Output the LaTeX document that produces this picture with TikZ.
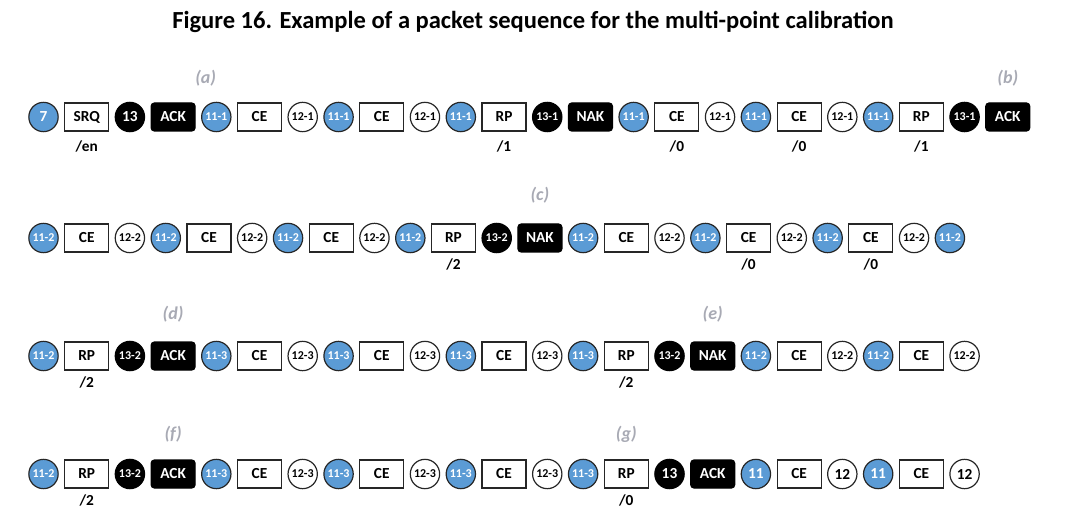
\documentclass[tikz,border=0pt]{standalone}
\usepackage{fontspec}
\setmainfont{Carlito}
\usepackage{tikz}
\usetikzlibrary{positioning,calc}
\definecolor{pktblue}{RGB}{91,155,213}
\definecolor{taggray}{RGB}{168,170,180}

\begin{document}
\begin{tikzpicture}[x=0.75pt,y=-0.75pt,
  node distance=4.9pt,
  pkt/.style={inner sep=0pt,outer sep=0pt,line width=0.9pt,
    font=\bfseries\fontsize{11.5}{13}\selectfont},
  bluedot/.style={pkt,circle,draw=black!85,fill=pktblue,text=white,
    minimum size=22pt,font=\bfseries\fontsize{9}{10}\selectfont},
  whitedot/.style={bluedot,fill=white,text=black},
  blackdot/.style={bluedot,fill=black,draw=black},
  bluebig/.style={bluedot,font=\bfseries\fontsize{11.5}{13}\selectfont},
  whitebig/.style={whitedot,font=\bfseries\fontsize{11.5}{13}\selectfont},
  blackbig/.style={blackdot,font=\bfseries\fontsize{11.5}{13}\selectfont},
  pktbox/.style={pkt,rectangle,draw=black!85,fill=white,
    minimum width=33pt,minimum height=21pt},
  ackbox/.style={pktbox,fill=black,draw=black,text=white,rounded corners=2.5pt},
  sublab/.style={font=\bfseries\fontsize{11.5}{13}\selectfont},
  parttag/.style={text=taggray,font=\bfseries\itshape\fontsize{13.5}{15}\selectfont}]

  \useasboundingbox (0,0) rectangle (1069,516);

  \node (title) at (533,22) {\bfseries\fontsize{18.4}{21}\selectfont
    Figure 16. Example of a packet sequence for the multi-point calibration};

  % row 1
  \coordinate (r1-0) at (22.3,117);
  \foreach \s/\t [count=\i] in {bluebig/7,pktbox/SRQ,blackbig/13,ackbox/ACK,
      bluedot/11-1,pktbox/CE,whitedot/12-1,bluedot/11-1,pktbox/CE,whitedot/12-1,
      bluedot/11-1,pktbox/RP,blackdot/13-1,ackbox/NAK,bluedot/11-1,pktbox/CE,
      whitedot/12-1,bluedot/11-1,pktbox/CE,whitedot/12-1,bluedot/11-1,pktbox/RP,
      blackdot/13-1,ackbox/ACK} {
    \pgfmathtruncatemacro\j{\i-1}
    \node (r1-\i) [\s,right=of r1-\j] {\t};
  }
  \foreach \k/\v in {2/en,12/1,16/0,19/0,22/1}
    \node (r1s\k) [sublab] at ([yshift=-21.75pt]r1-\k) {/\v};

  % row 2
  \coordinate (r2-0) at (22.3,238);
  \foreach \s/\t [count=\i] in {bluedot/11-2,pktbox/CE,whitedot/12-2,
      bluedot/11-2,pktbox/CE,whitedot/12-2,bluedot/11-2,pktbox/CE,whitedot/12-2,
      bluedot/11-2,pktbox/RP,blackdot/13-2,ackbox/NAK,bluedot/11-2,pktbox/CE,
      whitedot/12-2,bluedot/11-2,pktbox/CE,whitedot/12-2,bluedot/11-2,pktbox/CE,
      whitedot/12-2,bluedot/11-2} {
    \pgfmathtruncatemacro\j{\i-1}
    \node (r2-\i) [\s,right=of r2-\j] {\t};
  }
  \foreach \k/\v in {11/2,18/0,21/0}
    \node (r2s\k) [sublab] at ([yshift=-20pt]r2-\k) {/\v};

  % row 3
  \coordinate (r3-0) at (22.3,356);
  \foreach \s/\t [count=\i] in {bluedot/11-2,pktbox/RP,blackdot/13-2,ackbox/ACK,
      bluedot/11-3,pktbox/CE,whitedot/12-3,bluedot/11-3,pktbox/CE,whitedot/12-3,
      bluedot/11-3,pktbox/CE,whitedot/12-3,bluedot/11-3,pktbox/RP,blackdot/13-2,
      ackbox/NAK,bluedot/11-2,pktbox/CE,whitedot/12-2,bluedot/11-2,pktbox/CE,
      whitedot/12-2} {
    \pgfmathtruncatemacro\j{\i-1}
    \node (r3-\i) [\s,right=of r3-\j] {\t};
  }
  \foreach \k/\v in {2/2,15/2}
    \node (r3s\k) [sublab] at ([yshift=-20pt]r3-\k) {/\v};

  % row 4
  \coordinate (r4-0) at (22.3,474);
  \foreach \s/\t [count=\i] in {bluedot/11-2,pktbox/RP,blackdot/13-2,ackbox/ACK,
      bluedot/11-3,pktbox/CE,whitedot/12-3,bluedot/11-3,pktbox/CE,whitedot/12-3,
      bluedot/11-3,pktbox/CE,whitedot/12-3,bluedot/11-3,pktbox/RP,blackbig/13,
      ackbox/ACK,bluebig/11,pktbox/CE,whitebig/12,bluebig/11,pktbox/CE,
      whitebig/12} {
    \pgfmathtruncatemacro\j{\i-1}
    \node (r4-\i) [\s,right=of r4-\j] {\t};
  }
  \foreach \k/\v in {2/2,15/0}
    \node (r4s\k) [sublab] at ([yshift=-20pt]r4-\k) {/\v};

  % part tags
  \node (tagA) [parttag] at ([xshift=-8pt,yshift=29pt]r1-5) {(a)};
  \node (tagB) [parttag] at ([yshift=29pt]r1-24) {(b)};
  \node (tagC) [parttag] at ([yshift=32pt]r2-13) {(c)};
  \node (tagD) [parttag] at ([yshift=31pt]r3-4) {(d)};
  \node (tagE) [parttag] at ([yshift=31pt]r3-17) {(e)};
  \node (tagF) [parttag] at ([yshift=30pt]r4-4) {(f)};
  \node (tagG) [parttag] at ([yshift=30pt]r4-15) {(g)};

\end{tikzpicture}
\end{document}
